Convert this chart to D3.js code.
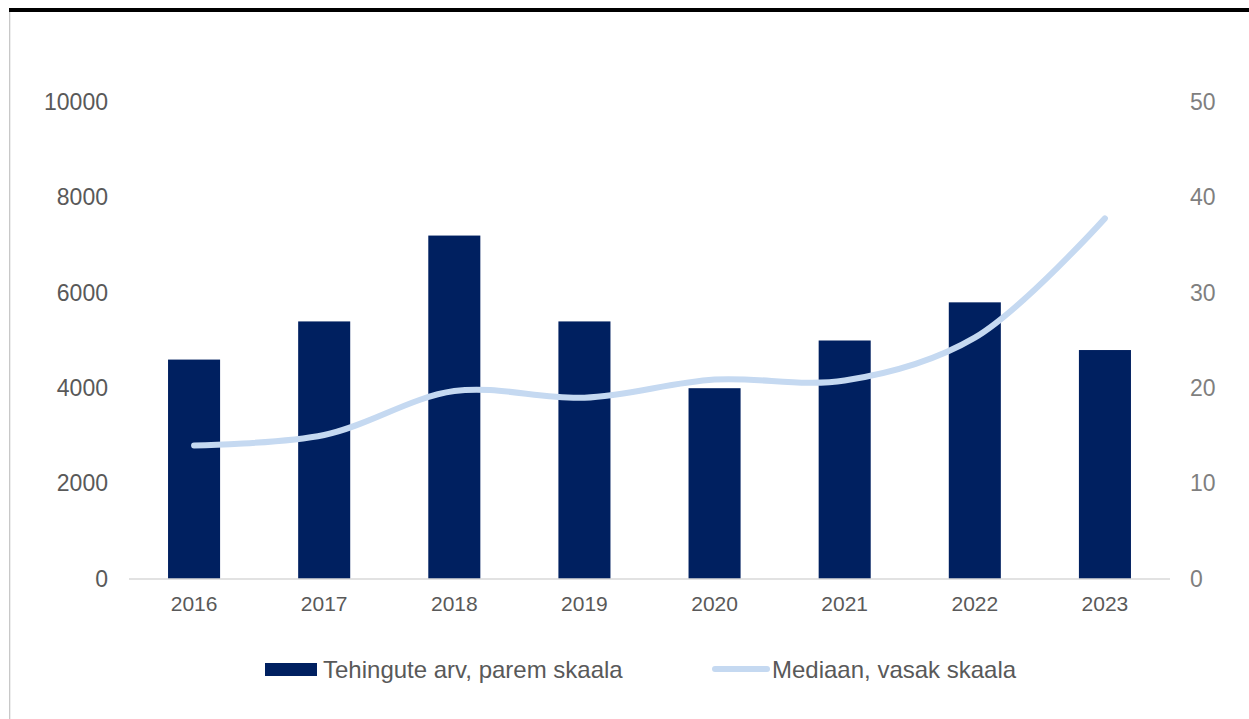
<!DOCTYPE html>
<meta charset="utf-8">
<style>
  body { margin: 0; background: #fff; }
  svg text { font-family: "Liberation Sans", Arial, sans-serif; fill: #595959; }
  .axis path, .axis line { display: none; }
</style>
<body>
<script src="https://d3js.org/d3.v7.min.js"></script>
<script>
  // data
  var years = ["2016", "2017", "2018", "2019", "2020", "2021", "2022", "2023"];
  var barValues = [4600, 5400, 7200, 5400, 4000, 5000, 5800, 4800];
  var lineValues = [14.0, 15.1, 19.7, 19.0, 20.9, 20.8, 25.3, 37.8];
  var leftTicks = [0, 2000, 4000, 6000, 8000, 10000];
  var rightTicks = [0, 10, 20, 30, 40, 50];
  var legendLabels = ["Tehingute arv, parem skaala", "Mediaan, vasak skaala"];

  var W = 1249, H = 719;
  var margin = { top: 102, right: 79, bottom: 140, left: 129 },
    width = W - margin.left - margin.right,
    height = H - margin.top - margin.bottom;

  var svg = d3.select("body").append("svg")
    .attr("width", W)
    .attr("height", H);

  // frame: thick black top line and thin grey left line
  svg.append("rect").attr("x", 9).attr("y", 8).attr("width", W - 9).attr("height", 4).style("fill", "#000");
  svg.append("rect").attr("x", 9).attr("y", 12).attr("width", 1.3).attr("height", H - 12).style("fill", "#c8c8c8");

  var g = svg.append("g")
    .attr("transform", "translate(" + margin.left + "," + margin.top + ")");

  var x = d3.scaleBand().domain(years).range([0, width]).paddingInner(0.6).paddingOuter(0.3);
  var yL = d3.scaleLinear().domain([0, 10000]).range([height, 0]);
  var yR = d3.scaleLinear().domain([0, 50]).range([height, 0]);

  // bars
  g.selectAll(".bar")
    .data(barValues)
    .enter()
    .append("rect")
    .attr("class", "bar")
    .attr("x", function (d, i) { return x(years[i]); })
    .attr("y", function (d) { return yL(d); })
    .attr("width", x.bandwidth())
    .attr("height", function (d) { return height - yL(d); })
    .style("fill", "#002060");

  // baseline
  g.append("line")
    .attr("x1", 0).attr("x2", width)
    .attr("y1", height).attr("y2", height)
    .style("stroke", "#d9d9d9")
    .style("stroke-width", 1.5);

  // smoothed line on the right scale
  var line = d3.line()
    .x(function (d, i) { return x(years[i]) + x.bandwidth() / 2; })
    .y(function (d) { return yR(d); })
    .curve(d3.curveCatmullRom.alpha(0.5));

  g.append("path")
    .datum(lineValues)
    .attr("d", line)
    .style("fill", "none")
    .style("stroke", "#c5d9f1")
    .style("stroke-width", 6)
    .style("stroke-linecap", "round");

  // axes
  var left = g.append("g").attr("class", "axis")
    .call(d3.axisLeft(yL).tickValues(leftTicks).tickSize(0).tickPadding(21).tickFormat(d3.format("d")));
  left.selectAll("text").style("font-size", "23px").style("fill", "#595959");

  var right = g.append("g").attr("class", "axis")
    .attr("transform", "translate(" + width + ",0)")
    .call(d3.axisRight(yR).tickValues(rightTicks).tickSize(0).tickPadding(20));
  right.selectAll("text").style("font-size", "23px").style("fill", "#7f7f7f");

  var bottom = g.append("g").attr("class", "axis")
    .attr("transform", "translate(0," + height + ")")
    .call(d3.axisBottom(x).tickSize(0).tickPadding(17));
  bottom.selectAll("text").style("font-size", "21px").style("fill", "#595959");

  // legend
  var legY = 669;
  svg.append("rect").attr("x", 265).attr("y", legY - 6).attr("width", 52).attr("height", 13).style("fill", "#002060");
  svg.append("text").attr("x", 323).attr("y", legY).attr("dominant-baseline", "central")
    .style("font-size", "24px").text(legendLabels[0]);
  svg.append("line").attr("x1", 715).attr("x2", 767).attr("y1", legY).attr("y2", legY)
    .style("stroke", "#c5d9f1").style("stroke-width", 6).style("stroke-linecap", "round");
  svg.append("text").attr("x", 772).attr("y", legY).attr("dominant-baseline", "central")
    .style("font-size", "24px").text(legendLabels[1]);
</script>
</body>
